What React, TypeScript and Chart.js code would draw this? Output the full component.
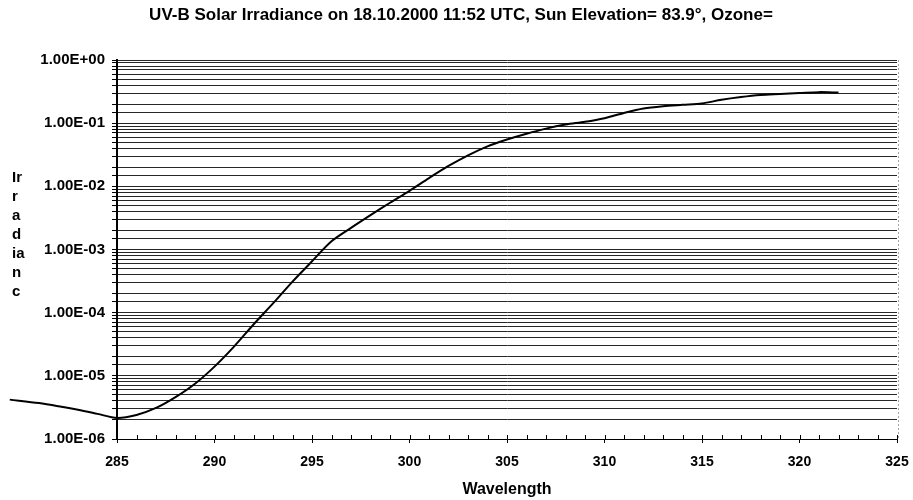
import React, { useEffect, useRef } from 'react';
import { Chart, registerables } from 'chart.js';

Chart.register(...registerables);

const titleText = 'UV-B Solar Irradiance on 18.10.2000 11:52 UTC, Sun Elevation= 83.9°, Ozone=';
const xAxisTitle = 'Wavelength';
const yAxisTitleLines = ['Ir', 'r', 'a', 'd', 'ia', 'n', 'c'];

const xMin = 285;
const xMax = 325;
const xMajorStep = 5;
const yMin = 1e-6;
const yMax = 1;

const wavelengths = [
  279.5, 281, 282, 283, 284, 285, 286, 287, 288, 289,
  290, 291, 292, 293, 294, 295, 296, 297, 298, 299,
  300, 301, 302, 303, 304, 305, 306, 307, 308, 309,
  310, 311, 312, 313, 314, 315, 316, 317, 318, 319,
  320, 321, 322,
];

const irradiance = [
  4.2e-6, 3.7e-6, 3.3e-6, 2.9e-6, 2.5e-6, 2.15e-6, 2.4e-6, 3.1e-6, 4.6e-6, 7.5e-6,
  1.4e-5, 2.9e-5, 6.5e-5, 1.4e-4, 3.1e-4, 6.5e-4, 1.35e-3, 2.2e-3, 3.5e-3, 5.5e-3,
  8.5e-3, 1.35e-2, 2.1e-2, 3.1e-2, 4.3e-2, 5.5e-2, 6.8e-2, 8.2e-2, 9.5e-2, 0.105,
  0.12, 0.145, 0.17, 0.185, 0.195, 0.205, 0.235, 0.26, 0.28, 0.29,
  0.30, 0.31, 0.305,
];

const FONT_FAMILY = '"Liberation Sans", Arial, Helvetica, sans-serif';

function isDecade(v: number): boolean {
  const l = Math.log10(v);
  return Math.abs(l - Math.round(l)) < 1e-9;
}

function formatExp(v: number): string {
  const e = Math.round(Math.log10(v));
  const m = v / Math.pow(10, e);
  const sign = e < 0 ? '-' : '+';
  return m.toFixed(2) + 'E' + sign + String(Math.abs(e)).padStart(2, '0');
}

const decorPlugin = {
  id: 'decor',
  afterDraw(chart: any) {
    const ctx = chart.ctx as CanvasRenderingContext2D;
    const area = chart.chartArea;
    ctx.save();
    ctx.fillStyle = '#000';
    ctx.font = `bold 17px ${FONT_FAMILY}`;
    ctx.textAlign = 'center';
    ctx.textBaseline = 'middle';
    ctx.fillText(titleText, 461, 15);

    ctx.font = `bold 15px ${FONT_FAMILY}`;
    ctx.textAlign = 'left';
    const lineH = 19;
    const midY = (area.top + area.bottom) / 2 - 15;
    const startY = midY - ((yAxisTitleLines.length - 1) * lineH) / 2;
    yAxisTitleLines.forEach((t, i) => ctx.fillText(t, 12, startY + i * lineH));

    // inward minor ticks on x axis
    const xs = chart.scales.x;
    ctx.strokeStyle = '#000';
    ctx.lineWidth = 1;
    for (let v = xMin; v <= xMax; v += 1) {
      const px = Math.round(xs.getPixelForValue(v)) + 0.5;
      ctx.beginPath();
      ctx.moveTo(px, xs.top);
      ctx.lineTo(px, xs.top - 4);
      ctx.stroke();
    }
    // faint right edge
    ctx.strokeStyle = 'rgba(0,0,0,0.35)';
    ctx.setLineDash([2, 2]);
    ctx.beginPath();
    ctx.moveTo(area.right + 1.5, area.top);
    ctx.lineTo(area.right + 1.5, area.bottom);
    ctx.stroke();
    ctx.restore();
  },
};

export default function App() {
  const canvasRef = useRef<HTMLCanvasElement | null>(null);

  useEffect(() => {
    document.body.style.margin = '0';
    const canvas = canvasRef.current;
    if (!canvas) return;
    const points = wavelengths.map((w, i) => ({ x: w, y: irradiance[i] }));
    const xTickFont = { family: FONT_FAMILY, size: 14, weight: 'bold' as const };
    const yTickFont = { family: FONT_FAMILY, size: 15, weight: 'bold' as const };
    const xTitleFont = { family: FONT_FAMILY, size: 16, weight: 'bold' as const };

    const chart = new Chart(canvas, {
      type: 'line',
      data: {
        datasets: [
          {
            data: points,
            borderColor: '#000',
            borderWidth: 2,
            pointRadius: 0,
            tension: 0.3,
            fill: false,
            clip: false as any,
          },
        ],
      },
      options: {
        animation: false,
        responsive: false,
        devicePixelRatio: 1,
        layout: { padding: { top: 60, right: 16, left: 0, bottom: 0 } },
        plugins: {
          legend: { display: false },
          tooltip: { enabled: false },
          title: { display: false },
        },
        scales: {
          x: {
            type: 'linear',
            max: xMax,
            afterDataLimits: (s: any) => {
              s.min = xMin;
            },
            afterFit: (s: any) => {
              s.height = 61;
              s.paddingLeft = 0;
              s.paddingRight = 0;
            },
            ticks: {
              stepSize: 1,
              autoSkip: false,
              maxRotation: 0,
              color: '#000',
              font: xTickFont,
              padding: 11,
              callback: (v: any) => (Number(v) % xMajorStep === 0 ? String(v) : ''),
            },
            grid: {
              drawOnChartArea: false,
              drawTicks: true,
              tickLength: 4,
              color: (c: any) =>
                c.tick && Number(c.tick.value) % xMajorStep === 0 ? '#000' : 'rgba(0,0,0,0)',
            },
            border: { display: true, color: '#000', width: 1 },
            title: {
              display: true,
              text: xAxisTitle,
              color: '#000',
              font: xTitleFont,
              padding: { top: 0, bottom: 1 },
            },
          },
          y: {
            type: 'logarithmic',
            min: yMin,
            max: yMax,
            afterFit: (s: any) => {
              s.width = 117;
              s.paddingTop = 0;
              s.paddingBottom = 0;
            },
            ticks: {
              autoSkip: false,
              color: '#000',
              font: yTickFont,
              padding: 7,
              callback: (v: any) => (isDecade(Number(v)) ? formatExp(Number(v)) : ''),
            },
            grid: {
              color: 'rgba(0,0,0,0.85)',
              lineWidth: 1,
              drawTicks: true,
              tickLength: 5,
              tickColor: '#000',
            },
            border: { display: true, color: '#000', width: 2 },
          },
        },
      },
      plugins: [decorPlugin],
    });

    return () => {
      chart.destroy();
    };
  }, []);

  return (
    <div style={{ width: 913, height: 500, background: '#fff' }}>
      <canvas ref={canvasRef} width={913} height={500} style={{ display: 'block' }} />
    </div>
  );
}
